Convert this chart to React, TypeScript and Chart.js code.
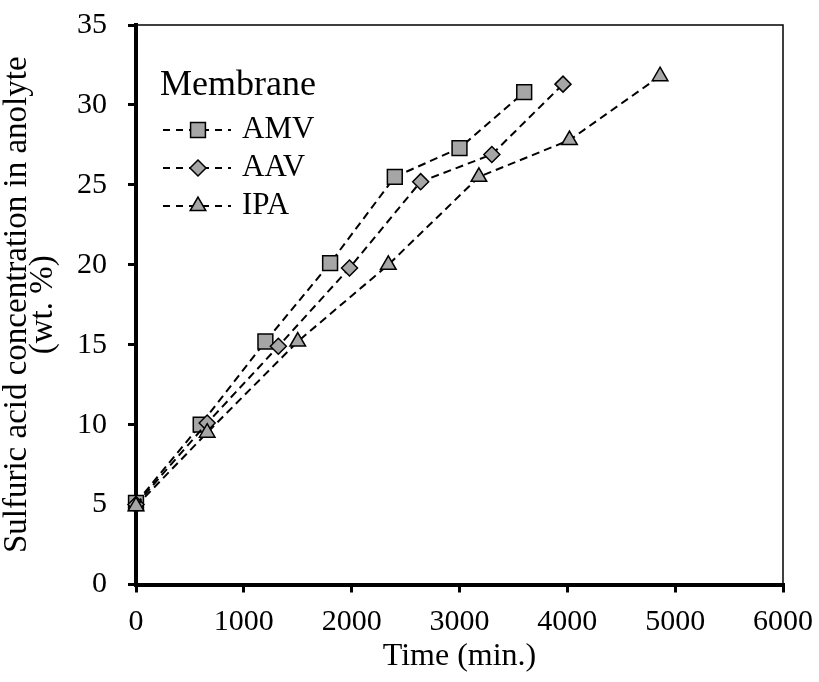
import React, { useEffect, useRef } from 'react';
import { Chart, registerables } from 'chart.js';

Chart.register(...registerables);

// ---- data ----
const seriesNames = ['AMV', 'AAV', 'IPA'];
const timeAMV = [0, 600, 1200, 1800, 2400, 3000, 3600];
const concAMV = [5.1, 10.0, 15.2, 20.1, 25.5, 27.3, 30.8];
const timeAAV = [0, 660, 1320, 1980, 2640, 3300, 3960];
const concAAV = [5.0, 10.1, 14.9, 19.8, 25.2, 26.9, 31.3];
const timeIPA = [0, 660, 1500, 2340, 3180, 4020, 4860];
const concIPA = [4.9, 9.5, 15.2, 20.0, 25.5, 27.8, 31.8];
const xTickValues = [0, 1000, 2000, 3000, 4000, 5000, 6000];
const yTickValues = [0, 5, 10, 15, 20, 25, 30, 35];
const legendTitle = 'Membrane';
const xTitle = 'Time (min.)';
const yTitle = ['Sulfuric acid concentration in anolyte', '(wt. %)'];

const FONT = "'Liberation Serif', 'Times New Roman', serif";
const MARKER_FILL = '#a6a6a6';
const pointStyles = ['rect', 'rectRot', 'triangle'];
const pointRadii = [10.5, 8, 9];

function drawMarker(ctx: CanvasRenderingContext2D, style: string, x: number, y: number, r: number) {
  ctx.beginPath();
  if (style === 'rect') {
    const s = Math.SQRT1_2 * r;
    ctx.rect(x - s, y - s, 2 * s, 2 * s);
  } else if (style === 'rectRot') {
    ctx.moveTo(x - r, y);
    ctx.lineTo(x, y - r);
    ctx.lineTo(x + r, y);
    ctx.lineTo(x, y + r);
    ctx.closePath();
  } else {
    const a = (2 * Math.PI) / 3;
    ctx.moveTo(x, y - r);
    ctx.lineTo(x + Math.sin(a) * r, y - Math.cos(a) * r);
    ctx.lineTo(x + Math.sin(2 * a) * r, y - Math.cos(2 * a) * r);
    ctx.closePath();
  }
  ctx.fillStyle = MARKER_FILL;
  ctx.fill();
  ctx.lineWidth = 1.5;
  ctx.strokeStyle = '#000';
  ctx.stroke();
}

const framePlugin = {
  id: 'frame',
  beforeDatasetsDraw(chart: any) {
    const { ctx, chartArea } = chart;
    ctx.save();
    ctx.strokeStyle = '#000';
    ctx.lineWidth = 1.5;
    ctx.beginPath();
    ctx.moveTo(chartArea.left, chartArea.top);
    ctx.lineTo(chartArea.right, chartArea.top);
    ctx.lineTo(chartArea.right, chartArea.bottom);
    ctx.stroke();
    ctx.restore();
  },
};

const legendPlugin = {
  id: 'customLegend',
  afterDraw(chart: any) {
    const { ctx } = chart;
    ctx.save();
    ctx.fillStyle = '#000';
    ctx.textBaseline = 'middle';
    ctx.textAlign = 'left';
    ctx.font = `36px ${FONT}`;
    ctx.fillText(legendTitle, 160, 86);
    const rows = [130, 168, 206];
    seriesNames.forEach((name, i) => {
      const y = rows[i];
      ctx.save();
      ctx.strokeStyle = '#000';
      ctx.lineWidth = 2;
      ctx.setLineDash([7, 6]);
      ctx.beginPath();
      ctx.moveTo(163, y);
      ctx.lineTo(231, y);
      ctx.stroke();
      ctx.restore();
      drawMarker(ctx, pointStyles[i], 198, y, pointRadii[i]);
      ctx.fillStyle = '#000';
      ctx.font = `31px ${FONT}`;
      ctx.fillText(name, 242, y);
    });
    ctx.restore();
  },
};

function zeroPadding(scale: any) {
  scale.paddingTop = 0;
  scale.paddingBottom = 0;
  scale.paddingLeft = 0;
  scale.paddingRight = 0;
}

export default function App() {
  const canvasRef = useRef<HTMLCanvasElement | null>(null);

  useEffect(() => {
    if (!canvasRef.current) return;
    const xs = [timeAMV, timeAAV, timeIPA];
    const ys = [concAMV, concAAV, concIPA];
    const datasets = seriesNames.map((name, i) => ({
      label: name,
      data: xs[i].map((x, j) => ({ x, y: ys[i][j] })),
      borderColor: '#000',
      borderWidth: 2,
      borderDash: [8, 5],
      pointStyle: pointStyles[i],
      pointRadius: pointRadii[i],
      pointHoverRadius: pointRadii[i],
      pointBackgroundColor: MARKER_FILL,
      pointBorderColor: '#000',
      pointBorderWidth: 1.5,
      showLine: true,
      fill: false,
      tension: 0,
      clip: false as any,
      order: 3 - i,
    }));

    const chart = new Chart(canvasRef.current, {
      type: 'scatter',
      data: { datasets },
      options: {
        animation: false,
        responsive: false,
        events: [],
        layout: { padding: { top: 25, right: 36, left: 0, bottom: 0 } },
        plugins: { legend: { display: false }, tooltip: { enabled: false } },
        scales: {
          x: {
            type: 'linear',
            min: 0,
            max: 6000,
            afterBuildTicks: (scale: any) => {
              scale.ticks = xTickValues.map((v) => ({ value: v }));
            },
            afterFit: (scale: any) => {
              scale.height = 97.5;
              zeroPadding(scale);
            },
            grid: { drawOnChartArea: false, drawTicks: true, tickLength: 8, color: '#000', lineWidth: 3 },
            border: { display: true, color: '#000', width: 4 },
            ticks: {
              color: '#000',
              padding: 12,
              font: { family: FONT, size: 30, lineHeight: 1.2 },
              maxRotation: 0,
              autoSkip: false,
              callback: (v: any) => String(v),
            },
            title: {
              display: true,
              text: xTitle,
              color: '#000',
              font: { family: FONT, size: 32, lineHeight: 1.2 },
              padding: { top: 0, bottom: 6 },
            },
          },
          y: {
            type: 'linear',
            min: 0,
            max: 35,
            afterBuildTicks: (scale: any) => {
              scale.ticks = yTickValues.map((v) => ({ value: v }));
            },
            afterFit: (scale: any) => {
              scale.width = 136;
              zeroPadding(scale);
            },
            grid: { drawOnChartArea: false, drawTicks: true, tickLength: 8, color: '#000', lineWidth: 3 },
            border: { display: true, color: '#000', width: 4 },
            ticks: {
              color: '#000',
              padding: 21,
              font: { family: FONT, size: 30, lineHeight: 1.2 },
              autoSkip: false,
              callback: (v: any) => String(v),
            },
            title: {
              display: true,
              text: yTitle,
              color: '#000',
              font: { family: FONT, size: 33, lineHeight: 0.79 },
              padding: { top: 4, bottom: 0 },
            },
          },
        },
      },
      plugins: [framePlugin, legendPlugin],
    });
    return () => chart.destroy();
  }, []);

  return (
    <div style={{ position: 'fixed', left: 0, top: 0, width: 819, height: 682, background: '#fff' }}>
      <canvas ref={canvasRef} width={819} height={682} style={{ display: 'block' }} />
    </div>
  );
}
